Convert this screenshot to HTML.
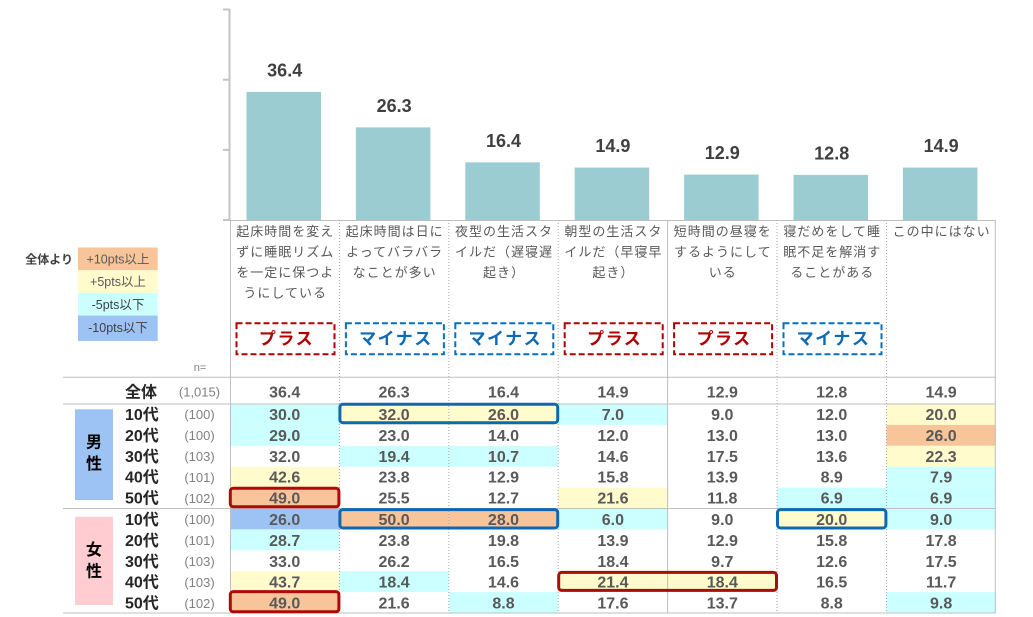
<!DOCTYPE html>
<html><head><meta charset="utf-8">
<style>
html,body{margin:0;padding:0;background:#fff;}
svg{display:block;}
text{font-family:"Liberation Sans","Noto Sans CJK JP",sans-serif;}
.cat{font-size:13px;fill:#595959;letter-spacing:1px;text-anchor:middle;}
.bl{font-size:18px;font-weight:bold;fill:#404040;text-anchor:middle;}
.num{font-size:16px;font-weight:bold;fill:#595959;text-anchor:middle;}
.age{font-size:16px;font-weight:bold;fill:#262626;}
.n{font-size:13px;fill:#808080;text-anchor:middle;}
.lg{font-size:12.5px;fill:#595959;text-anchor:middle;}
.g{font-size:16px;font-weight:bold;fill:#000;text-anchor:middle;}
.pl{font-size:17px;font-weight:bold;fill:#B00000;text-anchor:middle;letter-spacing:1.5px;}
.mi{font-size:17px;font-weight:bold;fill:#0E6AB4;text-anchor:middle;letter-spacing:1.5px;}
</style></head>
<body>
<svg width="1033" height="617" viewBox="0 0 1033 617" xmlns="http://www.w3.org/2000/svg">
<!-- axis -->
<line x1="229.5" y1="9" x2="229.5" y2="220" stroke="#C4C4C4" stroke-width="2"/>
<g stroke="#C4C4C4" stroke-width="2">
<line x1="223" y1="9.5" x2="230" y2="9.5"/>
<line x1="223" y1="79.7" x2="230" y2="79.7"/>
<line x1="223" y1="149.9" x2="230" y2="149.9"/>
<line x1="223" y1="220" x2="230" y2="220"/>
</g>
<!-- bars -->
<g fill="#9ACCD1">
<rect x="246.5" y="91.9" width="74.5" height="128.1"/>
<rect x="355.9" y="127.4" width="74.5" height="92.6"/>
<rect x="465.3" y="162.3" width="74.5" height="57.7"/>
<rect x="574.7" y="167.6" width="74.5" height="52.4"/>
<rect x="684.1" y="174.6" width="74.5" height="45.4"/>
<rect x="793.5" y="174.9" width="74.5" height="45.1"/>
<rect x="902.9" y="167.6" width="74.5" height="52.4"/>
</g>
<text class="bl" x="284.7" y="76.4">36.4</text>
<text class="bl" x="394.1" y="111.9">26.3</text>
<text class="bl" x="503.5" y="146.8">16.4</text>
<text class="bl" x="612.9" y="152.1">14.9</text>
<text class="bl" x="722.3" y="159.1">12.9</text>
<text class="bl" x="831.7" y="159.4">12.8</text>
<text class="bl" x="941.1" y="152.1">14.9</text>

<!-- category labels -->
<text class="cat" x="285.2" y="236.2">起床時間を変え</text>
<text class="cat" x="285.2" y="256.7">ずに睡眠リズム</text>
<text class="cat" x="285.2" y="277.2">を一定に保つよ</text>
<text class="cat" x="285.2" y="297.7">うにしている</text>
<text class="cat" x="394.6" y="236.2">起床時間は日に</text>
<text class="cat" x="394.6" y="256.7">よってバラバラ</text>
<text class="cat" x="394.6" y="277.2">なことが多い</text>
<text class="cat" x="504" y="236.2">夜型の生活スタ</text>
<text class="cat" x="504" y="256.7">イルだ（遅寝遅</text>
<text class="cat" x="504" y="277.2">起き）</text>
<text class="cat" x="613.4" y="236.2">朝型の生活スタ</text>
<text class="cat" x="613.4" y="256.7">イルだ（早寝早</text>
<text class="cat" x="613.4" y="277.2">起き）</text>
<text class="cat" x="722.8" y="236.2">短時間の昼寝を</text>
<text class="cat" x="722.8" y="256.7">するようにして</text>
<text class="cat" x="722.8" y="277.2">いる</text>
<text class="cat" x="832.2" y="236.2">寝だめをして睡</text>
<text class="cat" x="832.2" y="256.7">眠不足を解消す</text>
<text class="cat" x="832.2" y="277.2">ることがある</text>
<text class="cat" x="941.6" y="236.2">この中にはない</text>

<!-- dashed boxes -->
<g fill="none" stroke-width="2" stroke-dasharray="6 3">
<rect x="236.5" y="323.3" width="98" height="31" stroke="#B00000"/>
<rect x="345.9" y="323.3" width="98" height="31" stroke="#0070C0"/>
<rect x="455.3" y="323.3" width="98" height="31" stroke="#0070C0"/>
<rect x="564.7" y="323.3" width="98" height="31" stroke="#B00000"/>
<rect x="674.1" y="323.3" width="98" height="31" stroke="#B00000"/>
<rect x="783.5" y="323.3" width="98" height="31" stroke="#0070C0"/>
</g>
<text class="pl" x="286.5" y="344.5">プラス</text>
<text class="mi" x="395.9" y="344.5">マイナス</text>
<text class="mi" x="505.3" y="344.5">マイナス</text>
<text class="pl" x="614.7" y="344.5">プラス</text>
<text class="pl" x="724.1" y="344.5">プラス</text>
<text class="mi" x="833.5" y="344.5">マイナス</text>

<!-- legend -->
<text x="73" y="263.5" style="font-size:12px;font-weight:bold;fill:#404040;text-anchor:end;">全体より</text>
<rect x="78" y="247.5" width="79.7" height="22.7" fill="#F8C59B"/>
<rect x="78" y="270.2" width="79.7" height="22.7" fill="#FFFBCC"/>
<rect x="78" y="292.9" width="79.7" height="22.7" fill="#CCFFFF"/>
<rect x="78" y="315.6" width="79.7" height="25.4" fill="#9DC3F5"/>
<text class="lg" x="118" y="263.5">+10pts以上</text>
<text class="lg" x="118" y="286.2">+5pts以上</text>
<text class="lg" x="118" y="308.8" style="fill:#404040">-5pts以下</text>
<text class="lg" x="118" y="332.2" style="fill:#404040">-10pts以下</text>

<text x="200" y="371" style="font-size:11px;fill:#808080;text-anchor:middle;">n=</text>

<!-- cell fills -->
<g>
<rect x="230" y="404" width="109.4" height="20.9" fill="#CCFFFF"/>
<rect x="339.4" y="404" width="109.4" height="20.9" fill="#FFFBCC"/>
<rect x="448.8" y="404" width="109.4" height="20.9" fill="#FFFBCC"/>
<rect x="558.2" y="404" width="109.4" height="20.9" fill="#CCFFFF"/>
<rect x="886.4" y="404" width="109.4" height="20.9" fill="#FFFBCC"/>

<rect x="230" y="424.9" width="109.4" height="20.9" fill="#CCFFFF"/>
<rect x="886.4" y="424.9" width="109.4" height="20.9" fill="#F8C59B"/>

<rect x="339.4" y="445.8" width="109.4" height="20.9" fill="#CCFFFF"/>
<rect x="448.8" y="445.8" width="109.4" height="20.9" fill="#CCFFFF"/>
<rect x="886.4" y="445.8" width="109.4" height="20.9" fill="#FFFBCC"/>

<rect x="230" y="466.7" width="109.4" height="20.9" fill="#FFFBCC"/>
<rect x="886.4" y="466.7" width="109.4" height="20.9" fill="#CCFFFF"/>

<rect x="230" y="487.6" width="109.4" height="20.9" fill="#F8C59B"/>
<rect x="558.2" y="487.6" width="109.4" height="20.9" fill="#FFFBCC"/>
<rect x="777" y="487.6" width="109.4" height="20.9" fill="#CCFFFF"/>
<rect x="886.4" y="487.6" width="109.4" height="20.9" fill="#CCFFFF"/>

<rect x="230" y="508.5" width="109.4" height="20.9" fill="#9DC3F5"/>
<rect x="339.4" y="508.5" width="109.4" height="20.9" fill="#F8C59B"/>
<rect x="448.8" y="508.5" width="109.4" height="20.9" fill="#F8C59B"/>
<rect x="558.2" y="508.5" width="109.4" height="20.9" fill="#CCFFFF"/>
<rect x="777" y="508.5" width="109.4" height="20.9" fill="#FFFBCC"/>
<rect x="886.4" y="508.5" width="109.4" height="20.9" fill="#CCFFFF"/>

<rect x="230" y="529.4" width="109.4" height="20.9" fill="#CCFFFF"/>

<rect x="230" y="571.2" width="109.4" height="20.9" fill="#FFFBCC"/>
<rect x="339.4" y="571.2" width="109.4" height="20.9" fill="#CCFFFF"/>
<rect x="558.2" y="571.2" width="109.4" height="20.9" fill="#FFFBCC"/>
<rect x="667.6" y="571.2" width="109.4" height="20.9" fill="#FFFBCC"/>

<rect x="230" y="592.1" width="109.4" height="20.9" fill="#F8C59B"/>
<rect x="448.8" y="592.1" width="109.4" height="20.9" fill="#CCFFFF"/>
<rect x="886.4" y="592.1" width="109.4" height="20.9" fill="#CCFFFF"/>
</g>

<!-- grid lines -->
<g stroke="#BFBFBF" stroke-width="1">
<line x1="230" y1="220.5" x2="995.8" y2="220.5"/>
<line x1="63" y1="377.3" x2="995.8" y2="377.3"/>
<line x1="63" y1="404" x2="995.8" y2="404"/>
<line x1="63" y1="508.5" x2="995.8" y2="508.5"/>
<line x1="63" y1="613" x2="995.8" y2="613"/>
<line x1="230.5" y1="220" x2="230.5" y2="613"/>
<line x1="667.6" y1="220" x2="667.6" y2="613"/>
<line x1="995.3" y1="220" x2="995.3" y2="613"/>
</g>
<g stroke="#A6A6A6" stroke-width="1" stroke-dasharray="1 2">
<line x1="339.4" y1="220" x2="339.4" y2="613"/>
<line x1="448.8" y1="220" x2="448.8" y2="613"/>
<line x1="558.2" y1="220" x2="558.2" y2="613"/>
<line x1="777" y1="220" x2="777" y2="613"/>
<line x1="886.4" y1="220" x2="886.4" y2="613"/>
</g>

<!-- gender boxes -->
<rect x="75" y="409.3" width="38" height="90.7" fill="#9DC3F5"/>
<rect x="75" y="516.7" width="38" height="88.3" fill="#FFCDD1"/>
<text class="g" x="94" y="447.5">男</text>
<text class="g" x="94" y="469">性</text>
<text class="g" x="94" y="554.8">女</text>
<text class="g" x="94" y="576.5">性</text>

<!-- row labels -->
<text class="age" x="125" y="397.4">全体</text>
<text class="n" x="199.5" y="396.5">(1,015)</text>
<text class="age" x="125" y="420">10代</text><text class="n" x="199.5" y="419.2">(100)</text>
<text class="age" x="125" y="440.9">20代</text><text class="n" x="199.5" y="440.1">(100)</text>
<text class="age" x="125" y="461.8">30代</text><text class="n" x="199.5" y="461">(103)</text>
<text class="age" x="125" y="482.7">40代</text><text class="n" x="199.5" y="481.9">(101)</text>
<text class="age" x="125" y="503.6">50代</text><text class="n" x="199.5" y="502.8">(102)</text>
<text class="age" x="125" y="525">10代</text><text class="n" x="199.5" y="524.2">(100)</text>
<text class="age" x="125" y="545.9">20代</text><text class="n" x="199.5" y="545.1">(101)</text>
<text class="age" x="125" y="566.8">30代</text><text class="n" x="199.5" y="566">(103)</text>
<text class="age" x="125" y="587.7">40代</text><text class="n" x="199.5" y="586.9">(103)</text>
<text class="age" x="125" y="608.6">50代</text><text class="n" x="199.5" y="607.8">(102)</text>

<!-- numbers -->
<g class="num">
<text class="num" x="284.7" y="397.4">36.4</text><text class="num" x="394.1" y="397.4">26.3</text><text class="num" x="503.5" y="397.4">16.4</text><text class="num" x="612.9" y="397.4">14.9</text><text class="num" x="722.3" y="397.4">12.9</text><text class="num" x="831.7" y="397.4">12.8</text><text class="num" x="941.1" y="397.4">14.9</text>

<text class="num" x="284.7" y="420">30.0</text><text class="num" x="394.1" y="420">32.0</text><text class="num" x="503.5" y="420">26.0</text><text class="num" x="612.9" y="420">7.0</text><text class="num" x="722.3" y="420">9.0</text><text class="num" x="831.7" y="420">12.0</text><text class="num" x="941.1" y="420">20.0</text>

<text class="num" x="284.7" y="440.9">29.0</text><text class="num" x="394.1" y="440.9">23.0</text><text class="num" x="503.5" y="440.9">14.0</text><text class="num" x="612.9" y="440.9">12.0</text><text class="num" x="722.3" y="440.9">13.0</text><text class="num" x="831.7" y="440.9">13.0</text><text class="num" x="941.1" y="440.9">26.0</text>

<text class="num" x="284.7" y="461.8">32.0</text><text class="num" x="394.1" y="461.8">19.4</text><text class="num" x="503.5" y="461.8">10.7</text><text class="num" x="612.9" y="461.8">14.6</text><text class="num" x="722.3" y="461.8">17.5</text><text class="num" x="831.7" y="461.8">13.6</text><text class="num" x="941.1" y="461.8">22.3</text>

<text class="num" x="284.7" y="482.7">42.6</text><text class="num" x="394.1" y="482.7">23.8</text><text class="num" x="503.5" y="482.7">12.9</text><text class="num" x="612.9" y="482.7">15.8</text><text class="num" x="722.3" y="482.7">13.9</text><text class="num" x="831.7" y="482.7">8.9</text><text class="num" x="941.1" y="482.7">7.9</text>

<text class="num" x="284.7" y="503.6">49.0</text><text class="num" x="394.1" y="503.6">25.5</text><text class="num" x="503.5" y="503.6">12.7</text><text class="num" x="612.9" y="503.6">21.6</text><text class="num" x="722.3" y="503.6">11.8</text><text class="num" x="831.7" y="503.6">6.9</text><text class="num" x="941.1" y="503.6">6.9</text>

<text class="num" x="284.7" y="525">26.0</text><text class="num" x="394.1" y="525">50.0</text><text class="num" x="503.5" y="525">28.0</text><text class="num" x="612.9" y="525">6.0</text><text class="num" x="722.3" y="525">9.0</text><text class="num" x="831.7" y="525">20.0</text><text class="num" x="941.1" y="525">9.0</text>

<text class="num" x="284.7" y="545.9">28.7</text><text class="num" x="394.1" y="545.9">23.8</text><text class="num" x="503.5" y="545.9">19.8</text><text class="num" x="612.9" y="545.9">13.9</text><text class="num" x="722.3" y="545.9">12.9</text><text class="num" x="831.7" y="545.9">15.8</text><text class="num" x="941.1" y="545.9">17.8</text>

<text class="num" x="284.7" y="566.8">33.0</text><text class="num" x="394.1" y="566.8">26.2</text><text class="num" x="503.5" y="566.8">16.5</text><text class="num" x="612.9" y="566.8">18.4</text><text class="num" x="722.3" y="566.8">9.7</text><text class="num" x="831.7" y="566.8">12.6</text><text class="num" x="941.1" y="566.8">17.5</text>

<text class="num" x="284.7" y="587.7">43.7</text><text class="num" x="394.1" y="587.7">18.4</text><text class="num" x="503.5" y="587.7">14.6</text><text class="num" x="612.9" y="587.7">21.4</text><text class="num" x="722.3" y="587.7">18.4</text><text class="num" x="831.7" y="587.7">16.5</text><text class="num" x="941.1" y="587.7">11.7</text>

<text class="num" x="284.7" y="608.6">49.0</text><text class="num" x="394.1" y="608.6">21.6</text><text class="num" x="503.5" y="608.6">8.8</text><text class="num" x="612.9" y="608.6">17.6</text><text class="num" x="722.3" y="608.6">13.7</text><text class="num" x="831.7" y="608.6">8.8</text><text class="num" x="941.1" y="608.6">9.8</text>
</g>

<!-- highlight boxes -->
<g fill="none" stroke-width="3">
<rect x="339.9" y="404.3" width="217.8" height="18.4" rx="3" stroke="#0F68B4"/>
<rect x="230.3" y="488.2" width="108.6" height="18.6" rx="3" stroke="#AE0A0A"/>
<rect x="339.9" y="509.6" width="217.8" height="18.4" rx="3" stroke="#0F68B4"/>
<rect x="777.5" y="509.6" width="108.4" height="18.4" rx="3" stroke="#0F68B4"/>
<rect x="558.7" y="572.4" width="217.8" height="18" rx="3" stroke="#AE0A0A"/>
<rect x="230.3" y="591.6" width="108.6" height="20.2" rx="3" stroke="#AE0A0A"/>
</g>
</svg>
</body></html>
